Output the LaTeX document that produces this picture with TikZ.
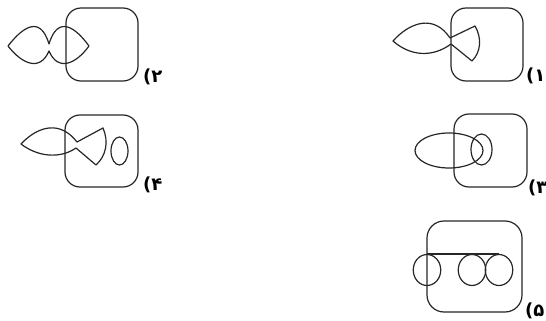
\documentclass[tikz,border=0pt]{standalone}
\usepackage{fontspec}
\usetikzlibrary{shapes.geometric}
\newfontfamily\arabicfont[Script=Arabic]{DejaVu Sans}
\newfontfamily\labfont{DejaVu Sans}
\tikzset{
  ln/.style={draw=black!85, line width=1.2pt, line join=round},
  box/.style={ln, rounded corners=15pt, inner sep=0pt},
  oval/.style={ln, ellipse, inner sep=0pt},
  lab/.style={anchor=west, inner sep=0pt, font=\labfont\bfseries\fontsize{18}{18}\selectfont}
}
\begin{document}
\begin{tikzpicture}[x=1pt,y=-1pt]
\useasboundingbox (0,0) rectangle (546,321);
% ---- figure 1 (top right)
\node[box, minimum width=72pt, minimum height=73pt] (r1) at (487,44.5) {};
\draw[ln] (393,41) .. controls (410,22) and (434,14) .. (450,38)
  -- (475,26) .. controls (482,38) and (481,52) .. (472,61)
  -- (451,44) .. controls (432,58) and (410,56) .. (393,41) -- cycle;
\node[lab] (l1) at (526,76) {(\arabicfont ۱};
% ---- figure 2 (top left)
\node[box, minimum width=72pt, minimum height=73pt] (r2) at (102,44.5) {};
\draw[ln] (8,46) .. controls (22,28) and (40,14) .. (49,44)
  .. controls (58,14) and (76,28) .. (89,46)
  .. controls (76,64) and (58,72) .. (49,51)
  .. controls (40,72) and (22,64) .. (8,46) -- cycle;
\node[lab] (l2) at (143,77) {(\arabicfont ۲};
% ---- figure 4 (middle left)
\node[box, minimum width=73pt, minimum height=72pt] (r4) at (101.5,151) {};
\draw[ln] (21,144) .. controls (38,126) and (60,120) .. (77,142)
  -- (103,128) .. controls (109,142) and (106,156) .. (96,165)
  -- (76,148) .. controls (60,159) and (38,157) .. (21,144) -- cycle;
\node[oval, minimum width=17pt, minimum height=28pt] (e4) at (119.5,151) {};
\node[lab] (l4) at (143,185) {(\arabicfont ۴};
% ---- figure 3 (middle right)
\node[box, minimum width=73pt, minimum height=73pt] (r3) at (490.5,150.5) {};
\node[oval, minimum width=68pt, minimum height=35pt] (e3a) at (449,150.5) {};
\node[oval, minimum width=21pt, minimum height=31pt] (e3b) at (481.5,149.5) {};
\node[lab] (l3) at (528,188) {(\arabicfont ۳};
% ---- figure 5 (bottom right)
\node[box, rounded corners=17pt, minimum width=95pt, minimum height=91pt] (r5) at (474.5,266.5) {};
\node[oval, minimum width=27.5pt, minimum height=31pt] (c1) at (427,270) {};
\node[oval, minimum width=27.5pt, minimum height=31pt] (c2) at (472,270) {};
\node[oval, minimum width=27.5pt, minimum height=31pt] (c3) at (499,270) {};
\draw[ln] (c1.north) -- (c3.north);
\node[lab] (l5) at (525,311) {(\arabicfont ۵};
\end{tikzpicture}
\end{document}
